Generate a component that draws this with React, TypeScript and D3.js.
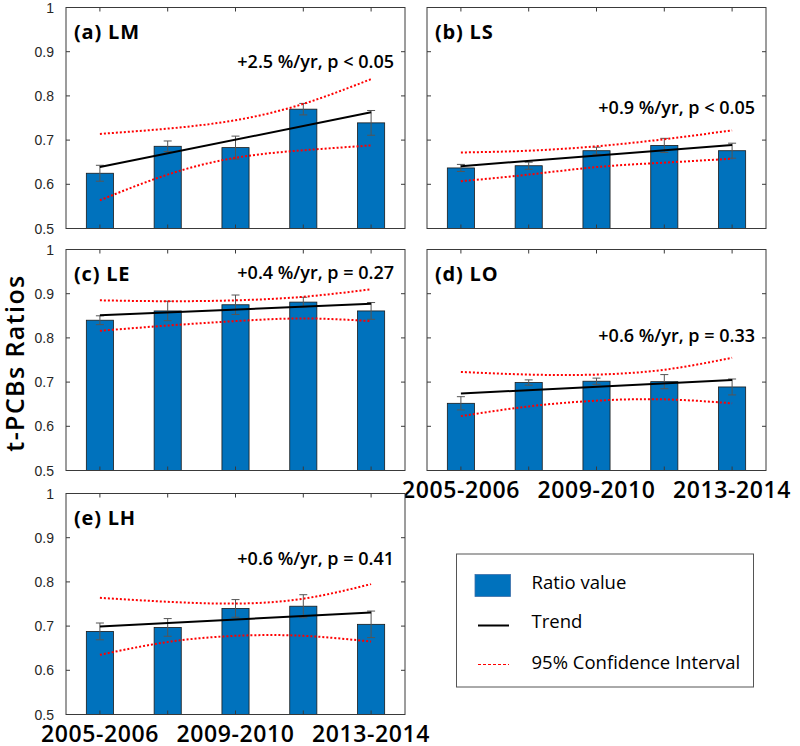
import React from "react";
import * as d3 from "d3";

// ---------- data ----------
const periods = ["2005-2006", "2007-2008", "2009-2010", "2011-2012", "2013-2014"];
const shownTickLabels = ["2005-2006", "", "2009-2010", "", "2013-2014"];
const yTicks = [0.5, 0.6, 0.7, 0.8, 0.9, 1];
const yTickLabels = ["0.5", "0.6", "0.7", "0.8", "0.9", "1"];

const panelNames = ["(a) LM", "(b) LS", "(c) LE", "(d) LO", "(e) LH"];
const trendTexts = [
  "+2.5 %/yr, p < 0.05",
  "+0.9 %/yr, p < 0.05",
  "+0.4 %/yr, p = 0.27",
  "+0.6 %/yr, p = 0.33",
  "+0.6 %/yr, p = 0.41",
];
const trendTextLevel = [0.864, 0.758, 0.934, 0.79, 0.838];

const ratioLM = [0.625, 0.686, 0.683, 0.77, 0.739];
const errLM = [0.018, 0.012, 0.026, 0.013, 0.028];
const trendLM = [0.639, 0.763];
const ciUpLM = [0.714, 0.726, 0.745, 0.782, 0.838];
const ciLoLM = [0.564, 0.622, 0.66, 0.677, 0.688];

const ratioLS = [0.637, 0.642, 0.676, 0.688, 0.676];
const errLS = [0.008, 0.008, 0.008, 0.016, 0.017];
const trendLS = [0.641, 0.689];
const ciUpLS = [0.672, 0.676, 0.686, 0.702, 0.722];
const ciLoLS = [0.607, 0.622, 0.639, 0.649, 0.658];

const ratioLE = [0.84, 0.861, 0.875, 0.881, 0.861];
const errLE = [0.01, 0.022, 0.022, 0.011, 0.019];
const trendLE = [0.851, 0.877];
const ciUpLE = [0.885, 0.883, 0.885, 0.893, 0.91];
const ciLoLE = [0.816, 0.828, 0.838, 0.844, 0.838];

const ratioLO = [0.652, 0.699, 0.702, 0.701, 0.689];
const errLO = [0.015, 0.006, 0.007, 0.016, 0.018];
const trendLO = [0.674, 0.705];
const ciUpLO = [0.723, 0.717, 0.717, 0.728, 0.755];
const ciLoLO = [0.623, 0.645, 0.658, 0.661, 0.652];

const ratioLH = [0.688, 0.697, 0.74, 0.745, 0.704];
const errLH = [0.019, 0.02, 0.02, 0.026, 0.03];
const trendLH = [0.699, 0.731];
const ciUpLH = [0.764, 0.755, 0.751, 0.762, 0.795];
const ciLoLH = [0.635, 0.664, 0.678, 0.678, 0.665];

const legendLabels = ["Ratio value", "Trend", "95% Confidence Interval"];
const yAxisTitle = "t-PCBs Ratios";

const panels = [
  { name: panelNames[0], text: trendTexts[0], textY: trendTextLevel[0], v: ratioLM, e: errLM, t: trendLM, up: ciUpLM, lo: ciLoLM },
  { name: panelNames[1], text: trendTexts[1], textY: trendTextLevel[1], v: ratioLS, e: errLS, t: trendLS, up: ciUpLS, lo: ciLoLS },
  { name: panelNames[2], text: trendTexts[2], textY: trendTextLevel[2], v: ratioLE, e: errLE, t: trendLE, up: ciUpLE, lo: ciLoLE },
  { name: panelNames[3], text: trendTexts[3], textY: trendTextLevel[3], v: ratioLO, e: errLO, t: trendLO, up: ciUpLO, lo: ciLoLO },
  { name: panelNames[4], text: trendTexts[4], textY: trendTextLevel[4], v: ratioLH, e: errLH, t: trendLH, up: ciUpLH, lo: ciLoLH },
];

// ---------- layout ----------
const W = 800;
const H = 746;
const colLeft = [66, 427];
const rowTop = [7.5, 249.5, 493.5];
const PW = 339;
const PH = 221;
const BAR_BLUE = "#0072BD";
const AXIS = "#3a3a3a";
const UI_FONT = "'Open Sans', 'Noto Sans', sans-serif";
const NUM_FONT = "'Liberation Sans', Arial, sans-serif";

type PanelData = typeof panels[number];

function Panel({ p, left, top, yLabels, xLabels }: { p: PanelData; left: number; top: number; yLabels: boolean; xLabels: boolean }) {
  const x = d3.scaleLinear().domain([0.5, periods.length + 0.5]).range([0, PW]);
  const y = d3.scaleLinear().domain([0.5, 1]).range([PH, 0]);
  const idx = periods.map((_, i) => i + 1);
  const bw = x(1.4) - x(1);
  const ciLine = d3
    .line<number>()
    .x((_, i) => x(i + 1))
    .y((d) => y(d))
    .curve(d3.curveNatural);
  const tick = 4;
  return (
    <g transform={`translate(${left},${top})`}>
      <rect x={0} y={0} width={PW} height={PH} fill="#fff" />
      {p.v.map((d, i) => (
        <rect
          key={"b" + i}
          x={x(idx[i]) - bw / 2}
          y={y(d)}
          width={bw}
          height={PH - y(d)}
          fill={BAR_BLUE}
          stroke="#1a1a1a"
          strokeWidth={0.8}
        />
      ))}
      {p.v.map((d, i) => {
        const cx = x(idx[i]);
        const y1 = y(d + p.e[i]);
        const y2 = y(d - p.e[i]);
        return (
          <g key={"e" + i} stroke="#555" strokeWidth={1}>
            <line x1={cx} x2={cx} y1={y1} y2={y2} />
            <line x1={cx - 4} x2={cx + 4} y1={y1} y2={y1} />
            <line x1={cx - 4} x2={cx + 4} y1={y2} y2={y2} />
          </g>
        );
      })}
      <path d={ciLine(p.up) || ""} fill="none" stroke="#ff0000" strokeWidth={2} strokeDasharray="2,2" />
      <path d={ciLine(p.lo) || ""} fill="none" stroke="#ff0000" strokeWidth={2} strokeDasharray="2,2" />
      <line x1={x(1)} x2={x(periods.length)} y1={y(p.t[0])} y2={y(p.t[1])} stroke="#000" strokeWidth={2} />
      <rect x={0} y={0} width={PW} height={PH} fill="none" stroke={AXIS} strokeWidth={1} />
      {yTicks.map((t) => (
        <g key={"yt" + t} stroke={AXIS} strokeWidth={1}>
          <line x1={0} x2={tick} y1={y(t)} y2={y(t)} />
          <line x1={PW - tick} x2={PW} y1={y(t)} y2={y(t)} />
        </g>
      ))}
      {idx.map((t) => (
        <g key={"xt" + t} stroke={AXIS} strokeWidth={1}>
          <line x1={x(t)} x2={x(t)} y1={PH} y2={PH - tick} />
          <line x1={x(t)} x2={x(t)} y1={0} y2={tick} />
        </g>
      ))}
      {yLabels &&
        yTicks.map((t, i) => (
          <text key={"yl" + t} x={-12} y={y(t)} dy="0.36em" textAnchor="end" fontFamily={NUM_FONT} fontSize={14} fill="#262626">
            {yTickLabels[i]}
          </text>
        ))}
      {xLabels &&
        idx.map((t, i) =>
          shownTickLabels[i] ? (
            <text key={"xl" + t} x={x(t)} y={PH + 27} textAnchor="middle" fontFamily={UI_FONT} fontSize={23} fontWeight={600} letterSpacing={0.6} fill="#000">
              {shownTickLabels[i]}
            </text>
          ) : null
        )}
      <text x={8} y={31.5} fontFamily={UI_FONT} fontSize={20} fontWeight={700} letterSpacing={0.8} fill="#000">
        {p.name}
      </text>
      <text x={PW - 11} y={y(p.textY)} textAnchor="end" fontFamily={UI_FONT} fontSize={18} fontWeight={600} letterSpacing={0} fill="#000" style={{ whiteSpace: "pre" }}>
        {p.text}
      </text>
    </g>
  );
}

function Legend() {
  const lx = 456.5;
  const ly = 554;
  const lw = 297;
  const lh = 133;
  return (
    <g>
      <rect x={lx} y={ly} width={lw} height={lh} fill="#fff" stroke="#555" strokeWidth={1} />
      <rect x={475} y={574.5} width={35.5} height={22} fill={BAR_BLUE} stroke="#3d6fa8" strokeWidth={0.8} />
      <line x1={478} x2={509} y1={625.5} y2={625.5} stroke="#000" strokeWidth={2} />
      <line x1={478} x2={509} y1={664.5} y2={664.5} stroke="#ff0000" strokeWidth={1} strokeDasharray="3,2" />
      {legendLabels.map((l, i) => (
        <text key={l} x={531.5} y={[589, 627.5, 668.5][i]} fontFamily={UI_FONT} fontSize={18.5} fontWeight={500} fill="#000">
          {l}
        </text>
      ))}
    </g>
  );
}

export default function App() {
  const pos = [
    [0, 0],
    [1, 0],
    [0, 1],
    [1, 1],
    [0, 2],
  ];
  return (
    <svg width={W} height={H} style={{ position: "absolute", left: 0, top: 0, background: "#fff" }}>
      <rect width={W} height={H} fill="#fff" />
      {panels.map((p, i) => (
        <Panel
          key={p.name}
          p={p}
          left={colLeft[pos[i][0]]}
          top={rowTop[pos[i][1]]}
          yLabels={pos[i][0] === 0}
          xLabels={i >= 3}
        />
      ))}
      <Legend />
      <text
        transform="translate(24,363) rotate(-90)"
        textAnchor="middle"
        fontFamily={UI_FONT}
        fontSize={25}
        fontWeight={600}
        letterSpacing={1.4}
        fill="#000"
      >
        {yAxisTitle}
      </text>
    </svg>
  );
}
